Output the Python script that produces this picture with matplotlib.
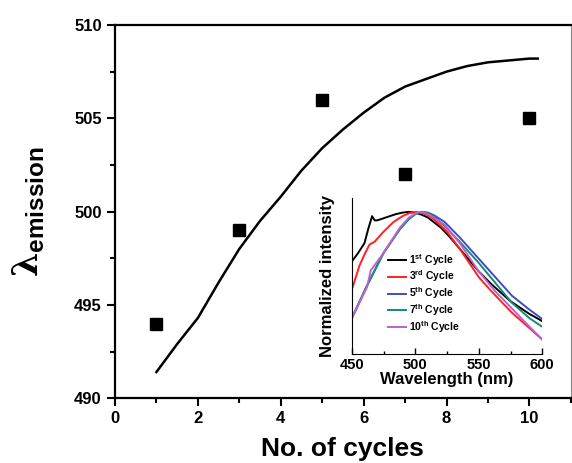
import matplotlib
matplotlib.use("Agg")
import matplotlib.pyplot as plt
from matplotlib.ticker import MultipleLocator

plt.rcParams['font.family'] = ['Liberation Sans', 'DejaVu Sans']
plt.rcParams['font.weight'] = 'bold'
plt.rcParams['mathtext.fontset'] = 'custom'
plt.rcParams['mathtext.rm'] = 'DejaVu Serif'
plt.rcParams['mathtext.bf'] = 'Liberation Sans:bold'

# main plot data
cycles = [1, 3, 5, 7, 10]
lam_em = [494, 499, 506, 502, 505]

fit_x = [1.0, 1.5, 2.0, 2.5, 3.0, 3.5, 4.0, 4.5, 5.0, 5.5, 6.0, 6.5, 7.0, 7.5, 8.0, 8.5, 9.0, 9.5, 10.0, 10.2]
fit_y = [491.4, 492.9, 494.3, 496.2, 498.0, 499.5, 500.8, 502.2, 503.4, 504.4, 505.3, 506.1, 506.7, 507.1, 507.5, 507.8, 508.0, 508.1, 508.2, 508.2]

# inset spectra
wl_1 = [450, 455, 460, 463, 466, 468, 470, 475, 480, 485, 490, 495, 500, 505, 510, 520, 527, 535, 550, 560, 575, 590, 600]
int_1 = [0.65, 0.71, 0.78, 0.88, 0.97, 0.94, 0.94, 0.955, 0.97, 0.985, 0.995, 1.0, 0.995, 0.98, 0.96, 0.89, 0.825, 0.74, 0.58, 0.49, 0.37, 0.28, 0.23]

wl_3 = [450, 456, 460, 464, 468, 475, 483, 490, 495, 501, 505, 512, 518, 525, 535, 550, 560, 576, 590, 600]
int_3 = [0.45, 0.62, 0.70, 0.77, 0.79, 0.86, 0.93, 0.97, 0.99, 1.0, 0.995, 0.967, 0.92, 0.86, 0.74, 0.54, 0.44, 0.29, 0.18, 0.10]

wl_5 = [450, 462, 475, 488, 495, 500, 505, 510, 515, 523, 535, 550, 563, 576, 590, 600]
int_5 = [0.25, 0.48, 0.71, 0.88, 0.95, 0.985, 1.0, 0.995, 0.975, 0.93, 0.82, 0.67, 0.54, 0.41, 0.31, 0.245]

wl_7 = [450, 462, 475, 488, 495, 501, 505, 510, 515, 523, 535, 550, 563, 576, 590, 600]
int_7 = [0.25, 0.48, 0.71, 0.88, 0.95, 0.99, 1.0, 0.99, 0.965, 0.90, 0.79, 0.64, 0.50, 0.36, 0.25, 0.19]

wl_10 = [450, 462, 465, 466, 475, 488, 495, 502, 507, 512, 523, 535, 550, 563, 576, 590, 600]
int_10 = [0.25, 0.47, 0.59, 0.60, 0.71, 0.89, 0.96, 1.0, 0.995, 0.975, 0.91, 0.78, 0.58, 0.44, 0.32, 0.19, 0.10]

labels = [r'1$^{\mathbf{st}}$ Cycle', r'3$^{\mathbf{rd}}$ Cycle', r'5$^{\mathbf{th}}$ Cycle',
          r'7$^{\mathbf{th}}$ Cycle', r'10$^{\mathbf{th}}$ Cycle']
colors = ['black', '#ff2020', '#3a4fc0', '#138a80', '#c060c8']

fig = plt.figure(figsize=(5.72, 4.63), dpi=100)
ax = fig.add_axes([0.201, 0.140, 0.797, 0.806])

ax.plot(fit_x, fit_y, color='black', lw=1.8)
ax.plot(cycles, lam_em, 's', color='black', ms=9)

ax.set_xlim(0, 11)
ax.set_ylim(490, 510)
ax.xaxis.set_major_locator(MultipleLocator(2))
ax.xaxis.set_minor_locator(MultipleLocator(1))
ax.yaxis.set_major_locator(MultipleLocator(5))
ax.yaxis.set_minor_locator(MultipleLocator(2.5))
ax.tick_params(which='major', direction='out', length=6, width=1.5, labelsize=12)
ax.tick_params(which='minor', direction='out', length=3.5, width=1.5)
for s in ['left', 'bottom', 'top']:
    ax.spines[s].set_linewidth(1.6)
ax.spines['right'].set_linewidth(0.8)
ax.spines['right'].set_color('#888888')
for lab in ax.get_xticklabels() + ax.get_yticklabels():
    lab.set_fontweight('bold')

ax.set_xlabel('No. of cycles', fontsize=19, fontweight='bold', labelpad=8)
ax.set_ylabel(r'$\mathrm{\lambda}_{\mathbf{emission}}$', fontsize=25, labelpad=20)

# inset
ins = fig.add_axes([0.615, 0.236, 0.333, 0.337])
for wl, it, c, lb in [(wl_1, int_1, colors[0], labels[0]), (wl_3, int_3, colors[1], labels[1]),
                      (wl_5, int_5, colors[2], labels[2]), (wl_7, int_7, colors[3], labels[3]),
                      (wl_10, int_10, colors[4], labels[4])]:
    ins.plot(wl, it, color=c, lw=1.4, label=lb)
ins.set_xlim(450, 600)
ins.set_ylim(0, 1.1)
ins.xaxis.set_major_locator(MultipleLocator(50))
ins.xaxis.set_minor_locator(MultipleLocator(25))
ins.set_yticks([])
ins.spines['top'].set_visible(False)
ins.spines['right'].set_visible(False)
ins.tick_params(axis='x', which='major', direction='in', length=4, width=1, labelsize=10.5, pad=3)
ins.tick_params(axis='x', which='minor', direction='in', length=2.5, width=1)
for lab in ins.get_xticklabels():
    lab.set_fontweight('bold')
ins.set_xlabel('Wavelength (nm)', fontsize=12, fontweight='bold', labelpad=0)
ins.set_ylabel('Normalized intensity', fontsize=12, fontweight='bold', labelpad=12)
ins.legend(loc='upper left', bbox_to_anchor=(0.17, 0.68), frameon=False,
           handlelength=1.7, handletextpad=0.3, labelspacing=0.1, borderaxespad=0,
           prop={'weight': 'bold', 'size': 7.5})

fig.savefig('out.png', dpi=100)
